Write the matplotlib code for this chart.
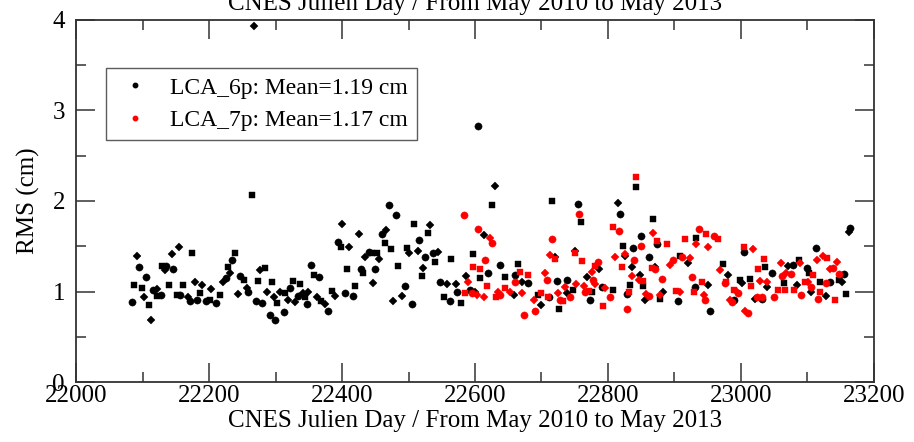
import numpy as np
import matplotlib
matplotlib.use('Agg')
import matplotlib.pyplot as pp
from matplotlib.lines import Line2D
from matplotlib.ticker import MultipleLocator

# LCA_6p (black) : CNES julian day, RMS in cm
day_6p = [22084, 22087, 22091, 22095, 22099, 22102, 22105, 22110, 22113, 22116,
          22121, 22122, 22128, 22130, 22134, 22136, 22140, 22144, 22146, 22152,
          22155, 22156, 22161, 22169, 22171, 22175, 22179, 22182, 22186, 22189,
          22195, 22202, 22203, 22211, 22217, 22221, 22226, 22228, 22232, 22234,
          22239, 22243, 22247, 22253, 22257, 22259, 22264, 22268, 22270, 22274,
          22277, 22280, 22284, 22287, 22292, 22294, 22297, 22299, 22302, 22307,
          22313, 22314, 22319, 22322, 22327, 22330, 22334, 22337, 22342, 22347,
          22345, 22349, 22354, 22358, 22362, 22365, 22368, 22374, 22379, 22385,
          22390, 22394, 22398, 22400, 22404, 22407, 22411, 22416, 22419, 22425,
          22429, 22432, 22435, 22440, 22445, 22446, 22449, 22452, 22456, 22460,
          22464, 22466, 22471, 22474, 22477, 22481, 22484, 22490, 22495, 22497,
          22501, 22505, 22509, 22514, 22516, 22520, 22522, 22525, 22530, 22533,
          22537, 22540, 22545, 22547, 22553, 22558, 22562, 22564, 22572, 22573,
          22579, 22587, 22593, 22597, 22600, 22604, 22608, 22614, 22619, 22625,
          22630, 22638, 22645, 22658, 22660, 22665, 22670, 22680, 22695, 22699,
          22711, 22716, 22720, 22723, 22727, 22738, 22739, 22748, 22750, 22755,
          22760, 22768, 22773, 22776, 22786, 22791, 22807, 22815, 22818, 22823,
          22825, 22828, 22833, 22836, 22838, 22842, 22848, 22849, 22853, 22856,
          22861, 22867, 22871, 22874, 22878, 22883, 22906, 22908, 22921, 22931,
          22933, 22951, 22954, 22973, 22981, 22989, 22998, 23001, 23005, 23013,
          23021, 23031, 23036, 23039, 23046, 23064, 23071, 23078, 23088, 23085,
          23099, 23103, 23105, 23113, 23119, 23128, 23134, 23147, 23152, 23155,
          23158, 23162, 23164]
rms_6p = [0.88, 1.07, 1.39, 1.27, 1.04, 0.94, 1.16, 0.85, 0.69, 1.02,
          0.95, 1.03, 0.96, 1.28, 1.24, 1.28, 1.07, 1.41, 1.25, 0.96,
          1.49, 0.96, 1.07, 0.94, 0.89, 1.42, 1.11, 0.91, 0.98, 1.07,
          0.89, 0.91, 1.03, 0.87, 0.96, 1.10, 1.15, 1.27, 1.20, 1.35,
          1.42, 0.97, 1.17, 1.13, 1.04, 1.00, 2.07, 3.93, 0.89, 1.12,
          1.24, 0.87, 1.26, 0.99, 0.74, 1.11, 0.94, 0.69, 0.87, 0.99,
          0.77, 0.98, 0.91, 1.04, 1.12, 0.88, 0.95, 1.08, 0.98, 0.86,
          0.94, 0.99, 1.29, 1.18, 0.94, 1.16, 0.90, 0.86, 0.78, 1.01,
          0.95, 1.55, 1.49, 1.75, 0.98, 1.25, 1.49, 0.95, 1.06, 1.64,
          1.25, 1.20, 1.38, 1.44, 1.42, 1.09, 1.25, 1.42, 1.36, 1.64,
          1.54, 1.68, 1.96, 1.47, 0.89, 1.85, 1.28, 0.95, 1.06, 1.48,
          1.42, 0.86, 1.75, 1.45, 1.57, 1.17, 1.26, 1.38, 1.65, 1.73,
          1.42, 1.33, 1.44, 1.10, 0.94, 1.08, 0.89, 1.36, 1.08, 0.99,
          0.87, 1.17, 1.02, 1.41, 1.00, 2.83, 1.15, 1.62, 1.20, 1.96,
          2.17, 1.29, 1.16, 0.96, 1.18, 1.30, 1.10, 1.09, 0.96, 0.85,
          0.94, 2.00, 1.38, 1.12, 0.81, 0.98, 1.13, 1.02, 1.45, 1.97,
          1.77, 1.16, 0.91, 0.99, 1.25, 1.05, 1.02, 1.98, 1.86, 1.50,
          1.39, 0.97, 1.07, 1.27, 1.48, 2.16, 1.18, 1.61, 1.06, 0.91,
          1.38, 1.80, 1.27, 1.52, 0.92, 1.00, 0.89, 1.39, 1.31, 1.05,
          1.59, 1.07, 0.79, 1.30, 1.18, 0.91, 1.13, 1.09, 1.44, 1.14,
          0.92, 0.92, 1.27, 1.05, 1.20, 1.09, 1.28, 1.29, 1.35, 1.07,
          1.26, 1.20, 0.99, 1.48, 1.10, 0.95, 1.10, 1.13, 1.10, 1.19,
          0.97, 1.66, 1.70]

# LCA_7p (red)
day_7p = [22583, 22585, 22590, 22595, 22597, 22603, 22604, 22607, 22613, 22615,
          22618, 22622, 22625, 22632, 22635, 22638, 22645, 22653, 22660, 22668,
          22670, 22674, 22680, 22688, 22690, 22700, 22705, 22709, 22710, 22713,
          22716, 22720, 22725, 22728, 22733, 22735, 22743, 22750, 22752, 22757,
          22761, 22764, 22766, 22772, 22776, 22778, 22780, 22781, 22785, 22793,
          22796, 22803, 22808, 22811, 22817, 22821, 22826, 22828, 22832, 22836,
          22839, 22842, 22846, 22849, 22853, 22857, 22862, 22866, 22867, 22871,
          22874, 22878, 22881, 22888, 22893, 22898, 22903, 22908, 22911, 22916,
          22923, 22926, 22929, 22933, 22937, 22941, 22944, 22946, 22948, 22951,
          22960, 22966, 22969, 22976, 22978, 22984, 22986, 22989, 22994, 22996,
          23004, 23006, 23011, 23015, 23018, 23024, 23025, 23028, 23031, 23035,
          23039, 23049, 23055, 23060, 23062, 23066, 23068, 23075, 23079, 23089,
          23091, 23096, 23101, 23106, 23109, 23114, 23116, 23119, 23124, 23128,
          23130, 23134, 23139, 23141, 23144, 23148]
rms_7p = [1.85, 0.98, 1.11, 0.98, 1.27, 0.96, 1.69, 1.25, 0.94, 1.35,
          1.06, 1.59, 1.54, 0.94, 1.00, 0.96, 1.04, 1.00, 1.11, 1.22,
          0.98, 0.74, 1.18, 0.91, 0.78, 0.98, 1.21, 1.13, 0.94, 1.40,
          1.58, 1.36, 0.98, 0.91, 0.89, 1.05, 0.94, 1.42, 1.08, 1.86,
          1.34, 1.06, 0.99, 1.01, 1.22, 1.13, 1.28, 1.08, 1.33, 0.84,
          1.04, 0.94, 1.71, 1.38, 1.67, 1.27, 1.41, 0.81, 0.99, 1.17,
          1.35, 2.26, 1.13, 1.50, 1.12, 0.97, 0.95, 1.26, 1.65, 1.25,
          1.56, 0.96, 1.14, 1.53, 1.29, 1.35, 1.01, 0.99, 1.38, 1.58,
          1.37, 1.16, 1.00, 1.52, 1.69, 1.10, 0.96, 0.91, 1.64, 1.49,
          1.61, 1.58, 1.24, 1.09, 1.10, 0.91, 0.88, 1.02, 0.99, 0.98,
          1.49, 0.78, 0.76, 1.06, 1.47, 0.94, 1.25, 1.12, 0.94, 1.36,
          1.10, 0.94, 1.02, 1.31, 1.17, 1.02, 1.21, 1.19, 1.02, 1.31,
          0.96, 1.11, 1.10, 1.05, 1.18, 1.35, 0.92, 1.00, 1.39, 1.09,
          1.37, 1.25, 1.26, 0.91, 1.33, 1.19]

labels = ['LCA_6p: Mean=1.19 cm', 'LCA_7p: Mean=1.17 cm']
title = 'CNES Julien Day / From May 2010 to May 2013'

config = {
    'font.family': ['Liberation Serif', 'DejaVu Serif'],
    'font.size': 18,
    'xtick.top': True,
    'ytick.right': True,
    'xtick.direction': 'in',
    'ytick.direction': 'in',
    'axes.linewidth': 1.3,
    'axes.edgecolor': '0.2',
}
pp.rcParams.update(config)

fig = pp.figure(figsize=(9.14, 4.42), dpi=100)
ax = fig.add_axes([0.0832, 0.1357, 0.873, 0.8191])

# mixed symbols, as in the original (black first, red drawn on top)
syms = ['o', 's', 'D']
sizes = {'o': 5.2, 's': 4.8, 'D': 4.4}
for k, m in enumerate(syms):
    ax.plot(day_6p[k::3], rms_6p[k::3], ls='none', marker=m, ms=sizes[m],
            mfc='k', mec='k', mew=0.3)
for k, m in enumerate(syms):
    ax.plot(day_7p[k::3], rms_7p[k::3], ls='none', marker=m, ms=sizes[m],
            mfc='red', mec='red', mew=0.3)

ax.set_xlim(22000, 23200)
ax.set_ylim(0, 4)
ax.xaxis.set_major_locator(MultipleLocator(200))
ax.xaxis.set_minor_locator(MultipleLocator(100))
ax.yaxis.set_major_locator(MultipleLocator(1))
ax.yaxis.set_minor_locator(MultipleLocator(0.5))
ax.tick_params(which='major', length=14, width=1.1, color='0.2')
ax.tick_params(which='minor', length=7, width=1.1, color='0.2')
ax.tick_params(axis='x', pad=2)
ax.tick_params(axis='y', pad=8)

ax.set_xlabel(title, labelpad=2)
ax.set_ylabel('RMS (cm)')
ax.yaxis.set_label_coords(-0.045, 0.5)

fig.text(0.52, 0.977, title, ha='center', va='baseline', fontsize=18)

handles = [Line2D([0], [0], ls='none', marker='o', ms=3.2, color='k'),
           Line2D([0], [0], ls='none', marker='o', ms=3.2, color='red')]
leg = ax.legend(handles, labels, loc='upper left', bbox_to_anchor=(0.038, 0.868),
                fontsize=17, frameon=True, fancybox=False, edgecolor='0.2',
                borderpad=0.4, labelspacing=0.45, handletextpad=0.7, handlelength=1.6,
                borderaxespad=0)
leg.get_frame().set_linewidth(1.0)

fig.savefig('out.png', dpi=100)
